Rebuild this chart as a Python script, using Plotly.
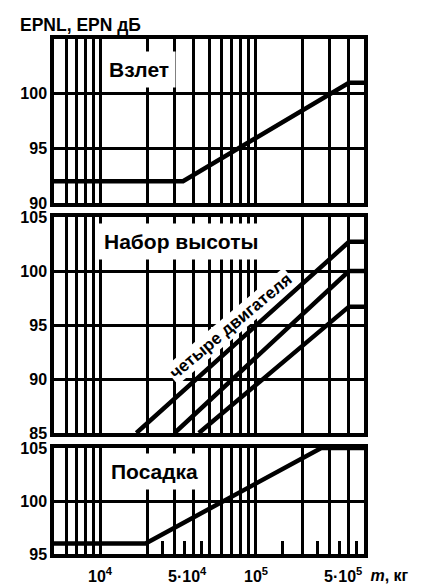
import math
import plotly.graph_objects as go
from plotly.subplots import make_subplots

# ---------------- data ----------------
grid_mass = [6000, 7000, 8000, 9000,
             10000, 20000, 30000, 40000, 50000, 60000, 70000, 80000, 90000,
             100000, 200000, 300000, 400000]
half_ticks = [25000, 35000, 45000, 150000, 250000, 350000, 450000]

takeoff_mass = [5000, 34000, 400000, 500000]
takeoff_epnl = [92, 92, 101, 101]

climb4_mass = [17000, 400000, 500000]
climb4_epnl = [85, 102.7, 102.7]
climb3_mass = [30000, 400000, 500000]
climb3_epnl = [85, 100, 100]
climb2_mass = [43000, 400000, 500000]
climb2_epnl = [85, 96.7, 96.7]

approach_mass = [5000, 19500, 265000, 500000]
approach_epnl = [96, 96, 105, 105]

panel_titles = ["Взлет", "Набор высоты", "Посадка"]
y_ranges = [[90, 105], [85, 105], [95, 105]]
y_ticks = [[90, 95, 100], [85, 90, 95, 100, 105], [95, 100, 105]]
y_label = "EPNL, EPN дБ"
x_ticks = [(10000, "10<sup>4</sup>", "center"),
           (50000, "5·10<sup>4</sup>", "right"),
           (100000, "10<sup>5</sup>", "center"),
           (500000, "5·10<sup>5</sup>", "right")]
x_unit = " <i>m</i>, кг"
engine_label = "четыре двигателя"

# ---------------- figure ----------------
# the page body adds an 8 px margin, so the figure is drawn 8 px smaller
OFF = 8
W, H = 424 - OFF, 586 - OFF
ml, mr, mt, mb = 51 - OFF, 60, 39 - OFF, 32
ph = H - mt - mb
pw = W - ml - mr


def dom(top_px, bot_px):
    top_px -= OFF
    bot_px -= OFF
    return [(H - mb - bot_px) / ph, (H - mb - top_px) / ph]


domains = [dom(39, 203), dom(217, 433), dom(448, 554)]

fig = make_subplots(rows=3, cols=1)
FONT = "Liberation Sans"
BLACK = "#000000"
xr = [math.log10(5000), math.log10(500000)]

series = [
    (1, takeoff_mass, takeoff_epnl),
    (2, climb4_mass, climb4_epnl),
    (2, climb3_mass, climb3_epnl),
    (2, climb2_mass, climb2_epnl),
    (3, approach_mass, approach_epnl),
]
for row, xs, ys in series:
    fig.add_trace(go.Scatter(x=xs, y=ys, mode="lines",
                             line=dict(color=BLACK, width=4.5),
                             showlegend=False, hoverinfo="skip"),
                  row=row, col=1)

for i in range(3):
    r = i + 1
    xa = dict(type="log", range=xr, tickmode="array", tickvals=grid_mass,
              showticklabels=False, ticks="", showgrid=True,
              gridcolor=BLACK, gridwidth=2.5, showline=True, mirror=True,
              linecolor=BLACK, linewidth=3.5, zeroline=False)
    if r == 3:
        xa["minor"] = dict(tickmode="array", tickvals=half_ticks,
                           ticks="inside", ticklen=13, tickwidth=2.5,
                           tickcolor=BLACK, showgrid=False)
    fig.update_xaxes(**xa, row=r, col=1)
    fig.update_yaxes(range=y_ranges[i], tickmode="array", tickvals=y_ticks[i],
                     ticks="", showgrid=True, gridcolor=BLACK, gridwidth=2.5,
                     showline=True, mirror=True, linecolor=BLACK,
                     linewidth=3.5, zeroline=False, domain=domains[i],
                     tickfont=dict(family=FONT, size=16, color=BLACK,
                                   weight="bold"),
                     row=r, col=1)

annotations = []
title_pos = [(4.25, 102.2), (4.52, 102.7), (4.345, 102.8)]
for i, t in enumerate(panel_titles):
    xref = "x" if i == 0 else f"x{i+1}"
    yref = "y" if i == 0 else f"y{i+1}"
    annotations.append(dict(text=t, x=title_pos[i][0], y=title_pos[i][1],
                            xref=xref, yref=yref, showarrow=False,
                            bgcolor="white", borderpad=6,
                            font=dict(family=FONT, size=21, color=BLACK,
                                      weight="bold")))

annotations.append(dict(text=engine_label, x=4.836, y=94.9, xref="x2",
                        yref="y2", showarrow=False, textangle=-40,
                        bgcolor="white", borderpad=1,
                        font=dict(family=FONT, size=17, color=BLACK,
                                  weight="bold")))

for val, txt, anc in x_ticks:
    annotations.append(dict(text=txt, x=math.log10(val), y=-0.041,
                            xref="x3", yref="paper", xanchor=anc,
                            yanchor="middle", showarrow=False,
                            font=dict(family=FONT, size=16, color=BLACK,
                                      weight="bold")))
annotations.append(dict(text=x_unit, x=math.log10(500000), y=-0.041,
                        xref="x3", yref="paper", xanchor="left",
                        yanchor="middle", showarrow=False,
                        font=dict(family=FONT, size=16, color=BLACK,
                                  weight="bold")))
annotations.append(dict(text=y_label, x=(15 - 51) / pw,
                        y=(H - mb - (25 - OFF)) / ph, xref="paper",
                        yref="paper", xanchor="left", yanchor="middle",
                        showarrow=False,
                        font=dict(family=FONT, size=17.5, color=BLACK,
                                  weight="bold")))

fig.update_layout(width=W, height=H, margin=dict(l=ml, r=mr, t=mt, b=mb),
                  paper_bgcolor="white", plot_bgcolor="white",
                  annotations=annotations, showlegend=False)

fig.write_html("out.html")
